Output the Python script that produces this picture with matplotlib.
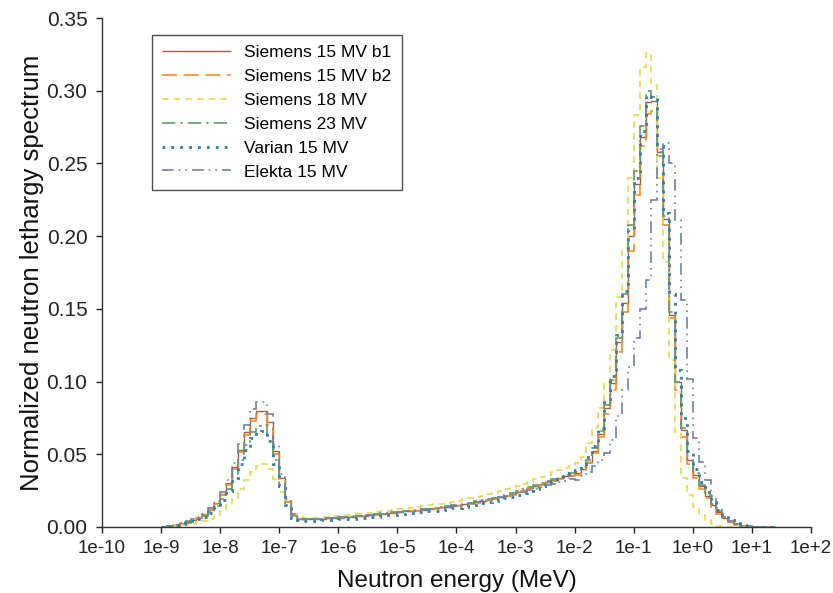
import numpy as np
import matplotlib
matplotlib.use("Agg")
import matplotlib.pyplot as plt

plt.rcParams['font.family'] = ['Liberation Sans', 'DejaVu Sans']

# bin edges (log10 MeV), 10 bins per decade
log_edges = np.linspace(-9.0, 1.4, 105)

labels = ["Siemens 15 MV b1", "Siemens 15 MV b2", "Siemens 18 MV",
          "Siemens 23 MV", "Varian 15 MV", "Elekta 15 MV"]

# thermal part (first 24 bins)
th_s15b1 = [0.0003, 0.0008, 0.0015, 0.0025, 0.0035, 0.0048, 0.0065, 0.0088, 0.0120, 0.0165,
            0.0225, 0.0300, 0.0410, 0.0530, 0.0650, 0.0750, 0.0800, 0.0800, 0.0720, 0.0520,
            0.0340, 0.0180, 0.0080, 0.0057]
th_s15b2 = [0.0003, 0.0008, 0.0015, 0.0024, 0.0034, 0.0047, 0.0063, 0.0085, 0.0117, 0.0160,
            0.0218, 0.0292, 0.0398, 0.0515, 0.0632, 0.0730, 0.0778, 0.0778, 0.0700, 0.0505,
            0.0330, 0.0175, 0.0078, 0.0055]
th_s18 = [0.0002, 0.0005, 0.0008, 0.0012, 0.0017, 0.0023, 0.0031, 0.0042, 0.0058, 0.0080,
          0.0110, 0.0150, 0.0200, 0.0260, 0.0320, 0.0380, 0.0420, 0.0430, 0.0400, 0.0330,
          0.0240, 0.0150, 0.0090, 0.0070]
th_s23 = [0.0003, 0.0007, 0.0013, 0.0021, 0.0030, 0.0042, 0.0057, 0.0077, 0.0104, 0.0143,
          0.0195, 0.0262, 0.0357, 0.0461, 0.0566, 0.0653, 0.0696, 0.0700, 0.0630, 0.0460,
          0.0300, 0.0160, 0.0075, 0.0056]
th_var15 = [0.0002, 0.0006, 0.0012, 0.0020, 0.0029, 0.0039, 0.0053, 0.0072, 0.0098, 0.0135,
            0.0184, 0.0246, 0.0336, 0.0434, 0.0532, 0.0615, 0.0656, 0.0660, 0.0590, 0.0430,
            0.0280, 0.0150, 0.0065, 0.0045]
th_ele15 = [0.0003, 0.0009, 0.0016, 0.0027, 0.0038, 0.0052, 0.0070, 0.0095, 0.0130, 0.0178,
            0.0243, 0.0324, 0.0443, 0.0572, 0.0702, 0.0810, 0.0860, 0.0860, 0.0778, 0.0562,
            0.0367, 0.0194, 0.0086, 0.0060]

# epithermal part (next 46 bins)
ep_s15b1 = [0.0052, 0.0053, 0.0055, 0.0057, 0.0059, 0.0061, 0.0064, 0.0067, 0.0071, 0.0075,
            0.0079, 0.0083, 0.0087, 0.0091, 0.0095, 0.0099, 0.0103, 0.0107, 0.0111, 0.0115,
            0.0120, 0.0125, 0.0130, 0.0135, 0.0140, 0.0145, 0.0150, 0.0157, 0.0164, 0.0172,
            0.0180, 0.0188, 0.0197, 0.0206, 0.0216, 0.0227, 0.0240, 0.0253, 0.0267, 0.0282,
            0.0298, 0.0310, 0.0322, 0.0335, 0.0348, 0.0360]
ep_s15b2 = [0.0051, 0.0052, 0.0054, 0.0056, 0.0058, 0.0060, 0.0063, 0.0066, 0.0069, 0.0073,
            0.0077, 0.0081, 0.0085, 0.0089, 0.0093, 0.0097, 0.0101, 0.0105, 0.0109, 0.0113,
            0.0118, 0.0122, 0.0127, 0.0132, 0.0137, 0.0142, 0.0147, 0.0153, 0.0160, 0.0168,
            0.0176, 0.0184, 0.0193, 0.0202, 0.0212, 0.0222, 0.0234, 0.0247, 0.0261, 0.0276,
            0.0292, 0.0304, 0.0316, 0.0328, 0.0340, 0.0352]
ep_s18 = [0.0062, 0.0063, 0.0065, 0.0067, 0.0070, 0.0073, 0.0076, 0.0080, 0.0084, 0.0088,
          0.0092, 0.0097, 0.0102, 0.0107, 0.0112, 0.0117, 0.0122, 0.0127, 0.0132, 0.0137,
          0.0143, 0.0149, 0.0155, 0.0161, 0.0168, 0.0175, 0.0182, 0.0190, 0.0198, 0.0207,
          0.0216, 0.0226, 0.0236, 0.0247, 0.0258, 0.0270, 0.0283, 0.0297, 0.0312, 0.0328,
          0.0345, 0.0360, 0.0375, 0.0390, 0.0405, 0.0420]
ep_s23 = [0.0053, 0.0054, 0.0056, 0.0058, 0.0060, 0.0062, 0.0065, 0.0068, 0.0072, 0.0076,
          0.0080, 0.0084, 0.0088, 0.0092, 0.0096, 0.0100, 0.0104, 0.0108, 0.0112, 0.0117,
          0.0122, 0.0127, 0.0132, 0.0137, 0.0142, 0.0148, 0.0154, 0.0161, 0.0168, 0.0176,
          0.0184, 0.0193, 0.0202, 0.0212, 0.0222, 0.0234, 0.0247, 0.0260, 0.0274, 0.0289,
          0.0303, 0.0316, 0.0329, 0.0343, 0.0356, 0.0370]
ep_var15 = [0.0042, 0.0043, 0.0044, 0.0046, 0.0048, 0.0050, 0.0052, 0.0055, 0.0058, 0.0061,
            0.0064, 0.0068, 0.0072, 0.0076, 0.0080, 0.0084, 0.0088, 0.0092, 0.0096, 0.0100,
            0.0104, 0.0108, 0.0113, 0.0118, 0.0123, 0.0128, 0.0134, 0.0140, 0.0147, 0.0154,
            0.0162, 0.0170, 0.0179, 0.0188, 0.0198, 0.0209, 0.0221, 0.0234, 0.0248, 0.0263,
            0.0279, 0.0296, 0.0314, 0.0332, 0.0350, 0.0368]
ep_ele15 = [0.0055, 0.0056, 0.0058, 0.0060, 0.0062, 0.0064, 0.0067, 0.0070, 0.0073, 0.0077,
            0.0081, 0.0085, 0.0089, 0.0093, 0.0097, 0.0101, 0.0105, 0.0109, 0.0113, 0.0117,
            0.0121, 0.0125, 0.0130, 0.0135, 0.0140, 0.0145, 0.0151, 0.0157, 0.0164, 0.0171,
            0.0178, 0.0186, 0.0194, 0.0203, 0.0212, 0.0222, 0.0232, 0.0242, 0.0253, 0.0264,
            0.0275, 0.0286, 0.0297, 0.0308, 0.0319, 0.0330]

# fast part (last 34 bins)
fa_s15b1 = [0.037, 0.040, 0.045, 0.052, 0.064, 0.082, 0.099, 0.127, 0.154, 0.200,
            0.236, 0.268, 0.292, 0.293, 0.258, 0.212, 0.146, 0.100, 0.067, 0.046,
            0.036, 0.028, 0.021, 0.015, 0.010, 0.006, 0.0035, 0.0018, 0.0008, 0.0003,
            0.0001, 0, 0, 0]
fa_s15b2 = [0.036, 0.039, 0.044, 0.051, 0.062, 0.078, 0.094, 0.120, 0.148, 0.190,
            0.228, 0.262, 0.284, 0.286, 0.255, 0.208, 0.144, 0.094, 0.062, 0.043,
            0.034, 0.026, 0.020, 0.014, 0.009, 0.0055, 0.0032, 0.0016, 0.0007, 0.0003,
            0.0001, 0, 0, 0]
fa_s18 = [0.044, 0.048, 0.058, 0.068, 0.082, 0.100, 0.122, 0.158, 0.192, 0.240,
          0.283, 0.316, 0.326, 0.304, 0.240, 0.182, 0.115, 0.065, 0.034, 0.022,
          0.014, 0.008, 0.005, 0.002, 0.001, 0.0003, 0.0001, 0, 0, 0,
          0, 0, 0, 0]
fa_s23 = [0.038, 0.041, 0.046, 0.054, 0.066, 0.084, 0.101, 0.130, 0.160, 0.208,
          0.245, 0.276, 0.300, 0.296, 0.260, 0.214, 0.148, 0.100, 0.068, 0.047,
          0.037, 0.029, 0.022, 0.016, 0.011, 0.007, 0.004, 0.002, 0.001, 0.0005,
          0.0002, 0.0001, 0, 0]
fa_var15 = [0.039, 0.043, 0.048, 0.056, 0.068, 0.086, 0.104, 0.132, 0.162, 0.205,
            0.240, 0.272, 0.297, 0.296, 0.262, 0.216, 0.160, 0.108, 0.075, 0.052,
            0.040, 0.031, 0.024, 0.017, 0.012, 0.008, 0.005, 0.003, 0.0015, 0.0007,
            0.0003, 0.0001, 0, 0]
fa_ele15 = [0.032, 0.035, 0.038, 0.042, 0.046, 0.051, 0.060, 0.076, 0.094, 0.110,
            0.130, 0.150, 0.170, 0.225, 0.258, 0.264, 0.250, 0.211, 0.156, 0.102,
            0.061, 0.045, 0.032, 0.021, 0.013, 0.008, 0.004, 0.002, 0.001, 0.0004,
            0.0001, 0, 0, 0]

series = [
    (th_s15b1 + ep_s15b1 + fa_s15b1, "#a0604a", (0, ()), 1.0),
    (th_s15b2 + ep_s15b2 + fa_s15b2, "#ff8a1f", (0, (9, 4)), 1.2),
    (th_s18 + ep_s18 + fa_s18, "#e8d84e", (0, (4, 3)), 1.2),
    (th_s23 + ep_s23 + fa_s23, "#5e9a6c", (0, (8, 3, 1.5, 3)), 1.2),
    (th_var15 + ep_var15 + fa_var15, "#2f7ea3", (0, (1, 2.2)), 2.0),
    (th_ele15 + ep_ele15 + fa_ele15, "#6f80a8", (0, (7, 3, 1, 3, 1, 3)), 1.2),
]

edges = 10.0 ** log_edges

fig = plt.figure(figsize=(8.33, 5.93), dpi=100)
ax = fig.add_axes([0.1224, 0.1113, 0.8512, 0.8583])

for (vals, color, ls, lw), lab in zip(series, labels):
    ax.stairs(vals, edges, baseline=None, color=color, linestyle=ls,
              linewidth=lw, label=lab)

ax.set_xscale('log')
ax.set_xlim(1e-10, 1e2)
ax.set_ylim(0, 0.35)
xticks = [10.0 ** k for k in range(-10, 3)]
xlabels = ["1e-10", "1e-9", "1e-8", "1e-7", "1e-6", "1e-5", "1e-4", "1e-3",
           "1e-2", "1e-1", "1e+0", "1e+1", "1e+2"]
ax.set_xticks(xticks)
ax.set_xticklabels(xlabels)
ax.xaxis.set_minor_locator(matplotlib.ticker.NullLocator())
yticks = [0.00, 0.05, 0.10, 0.15, 0.20, 0.25, 0.30, 0.35]
ax.set_yticks(yticks)
ax.set_yticklabels([f"{v:.2f}" for v in yticks])

for s in ['top', 'right']:
    ax.spines[s].set_visible(False)
for s in ['left', 'bottom']:
    ax.spines[s].set_color('#333333')
    ax.spines[s].set_linewidth(1.0)
ax.tick_params(axis='both', direction='out', length=4.5, width=1.0,
               colors='#222222')
ax.tick_params(axis='x', labelsize=13.5, pad=5)
ax.tick_params(axis='y', labelsize=15, pad=6)

ax.set_xlabel("Neutron energy (MeV)", fontsize=17.5, color='#111111', labelpad=9)
ax.set_ylabel("Normalized neutron lethargy spectrum", fontsize=18.5, color='#111111')
ax.yaxis.set_label_coords(-0.082, 0.5)

leg = ax.legend(loc='upper left', bbox_to_anchor=(0.07, 0.967), fontsize=12.5,
                frameon=True, fancybox=False, edgecolor='#222222',
                handlelength=4.0, handletextpad=0.75, labelspacing=0.5,
                borderpad=0.6, borderaxespad=0.0)
leg.get_frame().set_linewidth(1.0)

fig.savefig("out.png", dpi=100)
